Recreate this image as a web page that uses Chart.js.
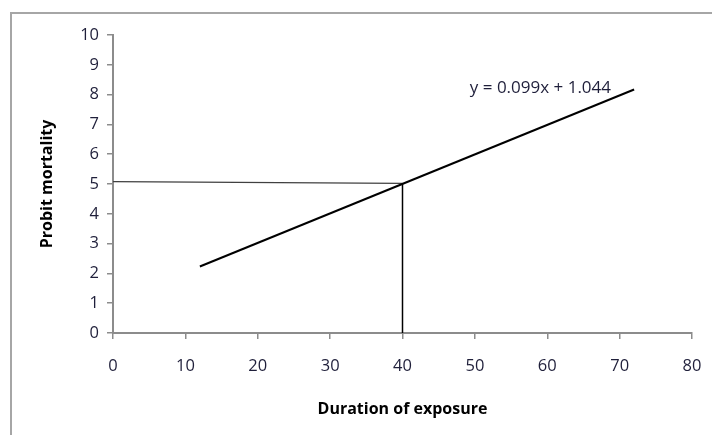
<!DOCTYPE html>
<html>
<head>
<meta charset="utf-8">
<script src="https://cdn.jsdelivr.net/npm/chart.js@4"></script>
<style>
  body { margin: 0; background: #fff; }
  #wrap { position: relative; width: 712px; height: 435px; }
  #frame { position: absolute; left: 10px; top: 12px; right: 0; bottom: 0;
           border-left: 2px solid #a6a6a6; border-top: 2px solid #a6a6a6; }
  canvas { position: absolute; left: 0; top: 0; }
</style>
</head>
<body>
<div id="wrap">
  <div id="frame"></div>
  <canvas id="canva" width="712" height="435"></canvas>
</div>
<script>
// fitted probit line
const fitX = [12, 72];
const fitY = [2.23, 8.17];
// reading lines at LT50
const horX = [0, 40];
const horY = [5.08, 5.02];
const verX = [40, 40];
const verY = [0, 5.0];
const ecuacion = "y = 0.099x + 1.044";
const ecuacionPos = { x: 49.3, y: 8.22 };

const xMin = 0, xMax = 80, xStep = 10;
const yMin = 0, yMax = 10, yStep = 1;

const pares = (xs, ys) => xs.map((x, i) => ({ x: x, y: ys[i] }));

const textoColor = "#1f1f3a";
const ejeColor = "#8c8c8c";
const fuente = "'Open Sans', sans-serif";

const etiquetaPlugin = {
    id: "etiqueta",
    afterDatasetsDraw(chart) {
        const c = chart.ctx;
        const px = chart.scales.x.getPixelForValue(ecuacionPos.x);
        const py = chart.scales.y.getPixelForValue(ecuacionPos.y);
        c.save();
        c.font = "17px " + fuente;
        c.fillStyle = textoColor;
        c.textAlign = "left";
        c.textBaseline = "middle";
        c.fillText(ecuacion, px, py);
        c.restore();
    }
};

const ctx = document.getElementById("canva").getContext("2d");
const chart = new Chart(ctx, {
    type: "scatter",
    data: {
        datasets: [{
            data: pares(fitX, fitY),
            showLine: true,
            borderColor: "#000",
            borderWidth: 2,
            pointRadius: 0
        }, {
            data: pares(horX, horY),
            showLine: true,
            borderColor: "#404040",
            borderWidth: 1.3,
            pointRadius: 0
        }, {
            data: pares(verX, verY),
            showLine: true,
            borderColor: "#000",
            borderWidth: 1.5,
            pointRadius: 0
        }]
    },
    options: {
        responsive: false,
        animation: false,
        layout: { padding: { left: 34, right: 20, top: 35, bottom: 12 } },
        plugins: {
            legend: { display: false },
            tooltip: { enabled: false }
        },
        scales: {
            x: {
                type: "linear",
                min: xMin, max: xMax,
                afterFit: (s) => {
                    s.height = 90;
                    s.paddingLeft = 0;
                    s.paddingRight = 0;
                },
                ticks: {
                    stepSize: xStep,
                    color: textoColor,
                    font: { family: fuente, size: 16.5 },
                    padding: 17,
                    maxRotation: 0
                },
                grid: {
                    drawOnChartArea: false,
                    tickLength: 6,
                    color: ejeColor,
                    lineWidth: 1.5
                },
                border: { color: ejeColor, width: 2 },
                title: {
                    display: true,
                    text: "Duration of exposure",
                    color: "#000",
                    font: { family: fuente, size: 16, weight: "bold" },
                    padding: { top: 4 }
                }
            },
            y: {
                type: "linear",
                min: yMin, max: yMax,
                afterFit: (s) => { s.width = 79; },
                ticks: {
                    stepSize: yStep,
                    color: textoColor,
                    font: { family: fuente, size: 16.5 },
                    padding: 8
                },
                grid: {
                    drawOnChartArea: false,
                    tickLength: 6,
                    color: ejeColor,
                    lineWidth: 1.5
                },
                border: { color: ejeColor, width: 2 },
                title: {
                    display: true,
                    text: "Probit mortality",
                    color: "#000",
                    font: { family: fuente, size: 16, weight: "bold" },
                    padding: { bottom: 0 }
                }
            }
        }
    },
    plugins: [etiquetaPlugin]
});
</script>
</body>
</html>
